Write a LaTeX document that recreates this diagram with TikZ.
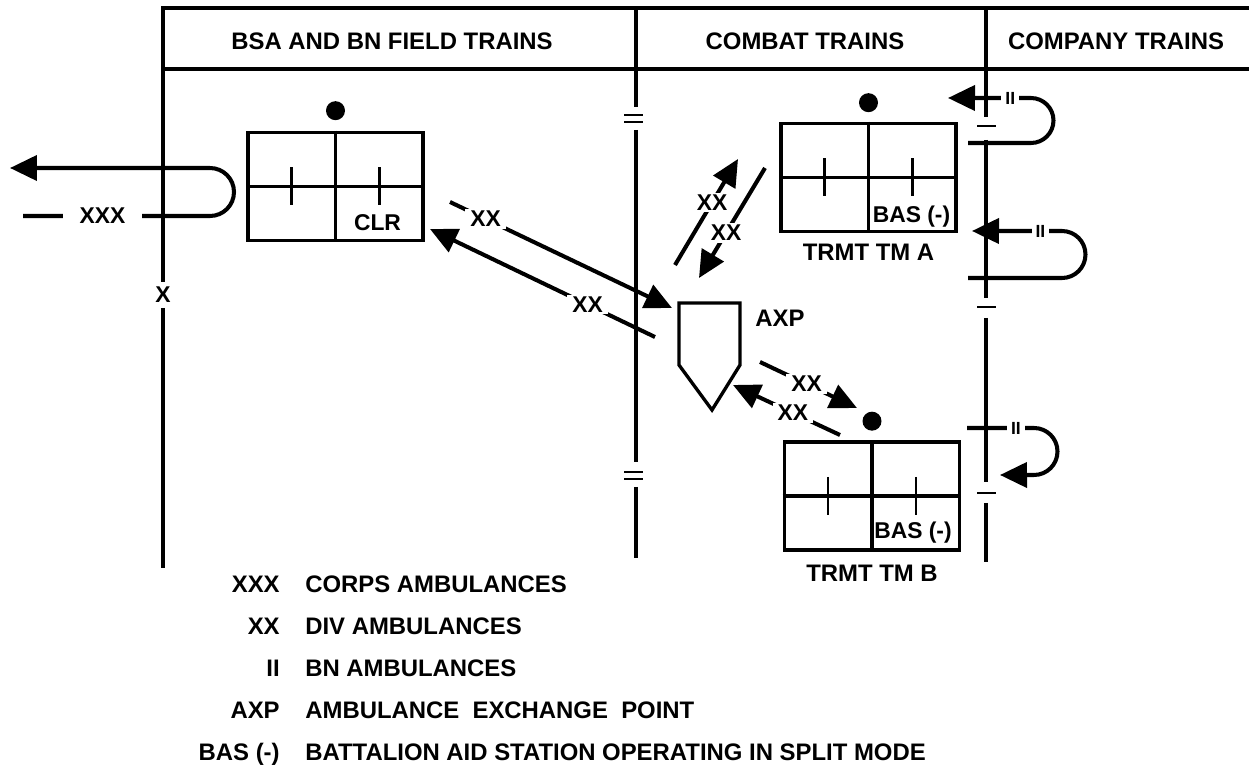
\documentclass[tikz,border=0pt]{standalone}
\usepackage{fontspec}
\setmainfont{Liberation Sans}
\usetikzlibrary{arrows.meta}

\begin{document}
\begin{tikzpicture}[x=0.02cm, y=-0.02cm,
    frameline/.style={line width=2.8pt},
    markline/.style={line width=1.5pt},
    cellline/.style={line width=1.9pt},
    celltick/.style={line width=1.4pt},
    evac/.style={line width=2.3pt, -{Triangle[length=5.4mm, width=5mm]}},
    bigtext/.style={font=\bfseries\fontsize{13.6}{16}\selectfont, inner sep=0pt},
    unittext/.style={font=\bfseries\fontsize{13}{15}\selectfont, inner sep=0pt},
    cutlabel/.style={fill=white, font=\bfseries\fontsize{13}{15}\selectfont, inner xsep=0.1cm, inner ysep=0.04cm},
    bnlabel/.style={fill=white, font=\bfseries\fontsize{10}{12}\selectfont, inner xsep=0.08cm, inner ysep=0.02cm},
    trmtbox/.style={draw, line width=2.1pt, minimum width=3.5cm, minimum height=2.16cm, inner sep=0pt},
    unitdot/.style={circle, fill, inner sep=0pt, minimum size=0.38cm}]
        \useasboundingbox (0,0) rectangle (1249,773);

        % Column frame and header
        \draw[frameline] (1249,8) -- (163,8) -- (163,282);
        \draw[frameline] (163,308) -- (163,568);
        \draw[frameline] (163,69) -- (1249,69);
        \draw[frameline] (636,8) -- (636,107);
        \draw[frameline] (636,130) -- (636,462);
        \draw[frameline] (636,487) -- (636,558);
        \draw[frameline] (986,8) -- (986,117);
        \draw[frameline] (986,140) -- (986,298);
        \draw[frameline] (986,318) -- (986,482);
        \draw[frameline] (986,503) -- (986,562);

        \node[bigtext] (bsahead) at (392,41) {BSA AND BN FIELD TRAINS};
        \node[bigtext] (cbthead) at (805,41) {COMBAT TRAINS};
        \node[bigtext] (cohead) at (1116,41) {COMPANY TRAINS};

        % Boundary echelon marks
        \node[font=\bfseries\fontsize{13}{15}\selectfont, inner sep=0pt] (bdemark) at (163,295) {X};
        \draw[markline] (624,115) -- (643,115);
        \draw[markline] (624,122) -- (643,122);
        \draw[markline] (624,472) -- (643,472);
        \draw[markline] (624,479) -- (643,479);
        \draw[markline] (977,126) -- (996,126);
        \draw[markline] (977,307) -- (996,307);
        \draw[markline] (977,493) -- (996,493);

        % Clearing station
        \node[trmtbox] (clr) at (335.5,186.5) {};
        \draw[cellline] (clr.north) -- (clr.south);
        \draw[cellline] (clr.west) -- (clr.east);
        \draw[celltick] ([shift={(-44,-19)}]clr.center) -- ([shift={(-44,19)}]clr.center);
        \draw[celltick] ([shift={(44,-19)}]clr.center) -- ([shift={(44,19)}]clr.center);
        \node[unittext] (clrtag) at ([shift={(42,36)}]clr.center) {CLR};
        \node[unitdot] (clrdot) at ([shift={(0,-20)}]clr.north) {};

        % Treatment team A
        \node[trmtbox] (tma) at (868.5,177.5) {};
        \draw[cellline] (tma.north) -- (tma.south);
        \draw[cellline] (tma.west) -- (tma.east);
        \draw[celltick] ([shift={(-44,-19)}]tma.center) -- ([shift={(-44,19)}]tma.center);
        \draw[celltick] ([shift={(44,-19)}]tma.center) -- ([shift={(44,19)}]tma.center);
        \node[unittext] (tmatag) at ([shift={(43,39)}]tma.center) {BAS (-)};
        \node[unitdot] (tmadot) at ([shift={(0,-19)}]tma.north) {};
        \node[bigtext] (tmaname) at ([shift={(0,19)}]tma.south) {TRMT TM A};

        % Treatment team B
        \node[trmtbox] (tmb) at (872,496) {};
        \draw[cellline] (tmb.north) -- (tmb.south);
        \draw[cellline] (tmb.west) -- (tmb.east);
        \draw[celltick] ([shift={(-44,-19)}]tmb.center) -- ([shift={(-44,19)}]tmb.center);
        \draw[celltick] ([shift={(44,-19)}]tmb.center) -- ([shift={(44,19)}]tmb.center);
        \node[unittext] (tmbtag) at ([shift={(41,37)}]tmb.center) {BAS (-)};
        \node[unitdot] (tmbdot) at ([shift={(0,-19)}]tmb.north) {};
        \node[bigtext] (tmbname) at ([shift={(0,21)}]tmb.south) {TRMT TM B};

        % Ambulance exchange point
        \draw[cellline] (679,303) -- (740,303) -- (740,365) -- (712,410) -- (679,365) -- cycle;
        \node[bigtext] (axpname) at (780,318) {AXP};

        % Ends of the evacuation routes
        \coordinate (xxxstart) at (23,216);
        \coordinate (xxxturn) at (210,216);
        \coordinate (xxxtip) at (10,168);
        \coordinate (clrout) at (450,202);
        \coordinate (axpin) at (672,308);
        \coordinate (axpout) at (655,337);
        \coordinate (clrin) at (430,229);
        \coordinate (axpup) at (675,265);
        \coordinate (tmain) at (738,159);
        \coordinate (tmaout) at (765,168);
        \coordinate (axpdown) at (699,278);
        \coordinate (axpright) at (760,362);
        \coordinate (tmbin) at (857,408);
        \coordinate (tmbout) at (840,435);
        \coordinate (axpback) at (733,385);
        \coordinate (loopastart) at (968,143);
        \coordinate (loopatip) at (948,98);
        \coordinate (loopbstart) at (968,278);
        \coordinate (loopbtip) at (972,231);
        \coordinate (loopcstart) at (967,428);
        \coordinate (loopctip) at (1000,475);

        % Corps ambulances back to the rear
        \draw[evac] (xxxstart) -- node[cutlabel, pos=0.425, minimum width=1.58cm] {XXX} (xxxturn)
            arc[start angle=-90, end angle=90, radius=0.48cm] -- (xxxtip);

        % Division ambulances
        \draw[evac] (clrout) -- node[cutlabel, pos=0.16] {XX} (axpin);
        \draw[evac] (axpout) -- node[cutlabel, pos=0.30] {XX} (clrin);
        \draw[evac] (axpup) -- node[cutlabel, pos=0.59] {XX} (tmain);
        \draw[evac] (tmaout) -- node[cutlabel, pos=0.59] {XX} (axpdown);
        \draw[evac] (axpright) -- node[cutlabel, pos=0.48] {XX} (tmbin);
        \draw[evac] (tmbout) -- node[cutlabel, pos=0.44] {XX} (axpback);

        % Battalion ambulances from the companies
        \draw[evac] (loopastart) -- (1031,143) arc[start angle=-90, end angle=90, radius=0.45cm]
            -- node[bnlabel, pos=0.25] {II} (loopatip);
        \draw[evac] (loopbstart) -- (1062,278) arc[start angle=-90, end angle=90, radius=0.47cm]
            -- node[bnlabel, pos=0.24] {II} (loopbtip);
        \draw[evac] (loopcstart) -- node[bnlabel, pos=0.73] {II} (1034,428)
            arc[start angle=90, end angle=-90, radius=0.47cm] -- (loopctip);

        % Legend
        \node[bigtext, anchor=base east] (keyxxx) at (280,593) {XXX};
        \node[bigtext, anchor=base west] (txtxxx) at (305,593) {CORPS AMBULANCES};
        \node[bigtext, anchor=base east] (keyxx) at (280,635) {XX};
        \node[bigtext, anchor=base west] (txtxx) at (305,635) {DIV AMBULANCES};
        \node[bigtext, anchor=base east] (keyii) at (280,677) {II};
        \node[bigtext, anchor=base west] (txtii) at (305,677) {BN AMBULANCES};
        \node[bigtext, anchor=base east] (keyaxp) at (280,719) {AXP};
        \node[bigtext, anchor=base west] (txtaxp) at (305,719) {AMBULANCE~~EXCHANGE~~POINT};
        \node[bigtext, anchor=base east] (keybas) at (280,761) {BAS (-)};
        \node[bigtext, anchor=base west] (txtbas) at (305,761) {BATTALION AID STATION OPERATING IN SPLIT MODE};
      \end{tikzpicture}
\end{document}
